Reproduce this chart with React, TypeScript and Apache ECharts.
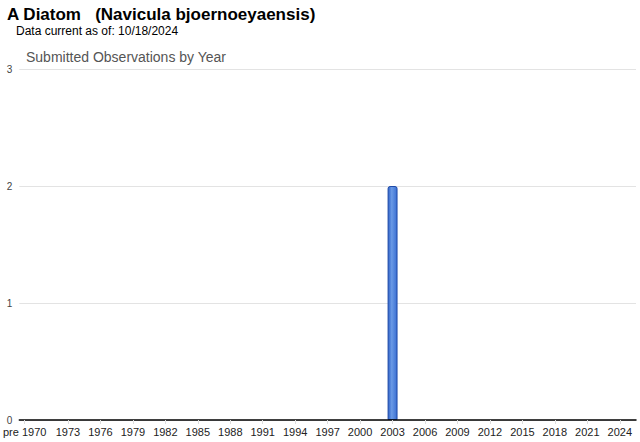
import React, { useEffect, useRef } from "react";
import * as echarts from "echarts";

const titleText = "A Diatom   (Navicula bjoernoeyaensis)";
const subText = "Data current as of: 10/18/2024";
const chartTitle = "Submitted Observations by Year";

const categories: string[] = ["pre 1970"];
for (let y = 1970; y <= 2025; y++) categories.push(String(y));

// counts per category: pre 1970, 1970 ... 2025
const counts: number[] = [
  0, // pre 1970
  0, 0, 0, 0, 0, 0, 0, 0, 0, 0, // 1970-1979
  0, 0, 0, 0, 0, 0, 0, 0, 0, 0, // 1980-1989
  0, 0, 0, 0, 0, 0, 0, 0, 0, 0, // 1990-1999
  0, 0, 0, 2, 0, 0, 0, 0, 0, 0, // 2000-2009
  0, 0, 0, 0, 0, 0, 0, 0, 0, 0, // 2010-2019
  0, 0, 0, 0, 0, 0, // 2020-2025
];

const yTicks = [0, 1, 2, 3];

const showIdx = (i: number) => i === 0 || (i >= 4 && (i - 1) % 3 === 0);

export default function App() {
  const ref = useRef<HTMLDivElement>(null);
  useEffect(() => {
    if (!ref.current) return;
    const chart = echarts.init(ref.current, null, { renderer: "svg" });
    chart.setOption({
      animation: false,
      title: [
        {
          text: titleText,
          left: 2,
          top: 1,
          textStyle: { fontFamily: "Liberation Sans, Arial", fontSize: 17, fontWeight: "bold", color: "#000" },
        },
        {
          text: subText,
          left: 11,
          top: 20,
          textStyle: { fontFamily: "Liberation Sans, Arial", fontSize: 12, fontWeight: "normal", color: "#000" },
        },
        {
          text: chartTitle,
          left: 21,
          top: 45,
          textStyle: { fontFamily: "Liberation Sans, Arial", fontSize: 14, fontWeight: "normal", color: "#555" },
        },
      ],
      grid: { left: 19, right: 4, top: 69, bottom: 22, containLabel: false },
      xAxis: {
        type: "category",
        data: categories,
        z: 5,
        axisLine: { show: true, lineStyle: { color: "#000", width: 1.5 } },
        axisTick: {
          show: true,
          alignWithLabel: true,
          interval: (i: number) => showIdx(i),
          length: 4,
          lineStyle: { color: "#ddd" },
        },
        axisLabel: {
          interval: (i: number) => showIdx(i),
          fontFamily: "Liberation Sans, Arial",
          fontSize: 11,
          color: "#222",
          margin: 6,
        },
      },
      yAxis: {
        type: "value",
        min: yTicks[0],
        max: yTicks[yTicks.length - 1],
        interval: 1,
        axisLine: { show: false },
        axisTick: { show: false },
        splitLine: { lineStyle: { color: "#e3e3e3", width: 1 } },
        axisLabel: {
          fontFamily: "Liberation Sans, Arial",
          fontSize: 10,
          color: "#444",
          margin: 7,
        },
      },
      series: [
        {
          type: "bar",
          data: counts.map((v) => (v === 0 ? null : v)),
          barWidth: "92%",
          itemStyle: {
            color: new echarts.graphic.LinearGradient(0, 0, 1, 0, [
              { offset: 0, color: "#2f62c8" },
              { offset: 0.4, color: "#6a9ae6" },
              { offset: 1, color: "#3a6fd2" },
            ]),
            borderColor: "#1f4aa8",
            borderWidth: 1,
            borderRadius: [2, 2, 0, 0],
          },
        },
      ],
    });
    return () => chart.dispose();
  }, []);
  return (
    <div
      ref={ref}
      style={{ position: "absolute", left: 0, top: 0, width: 640, height: 442 }}
    />
  );
}
